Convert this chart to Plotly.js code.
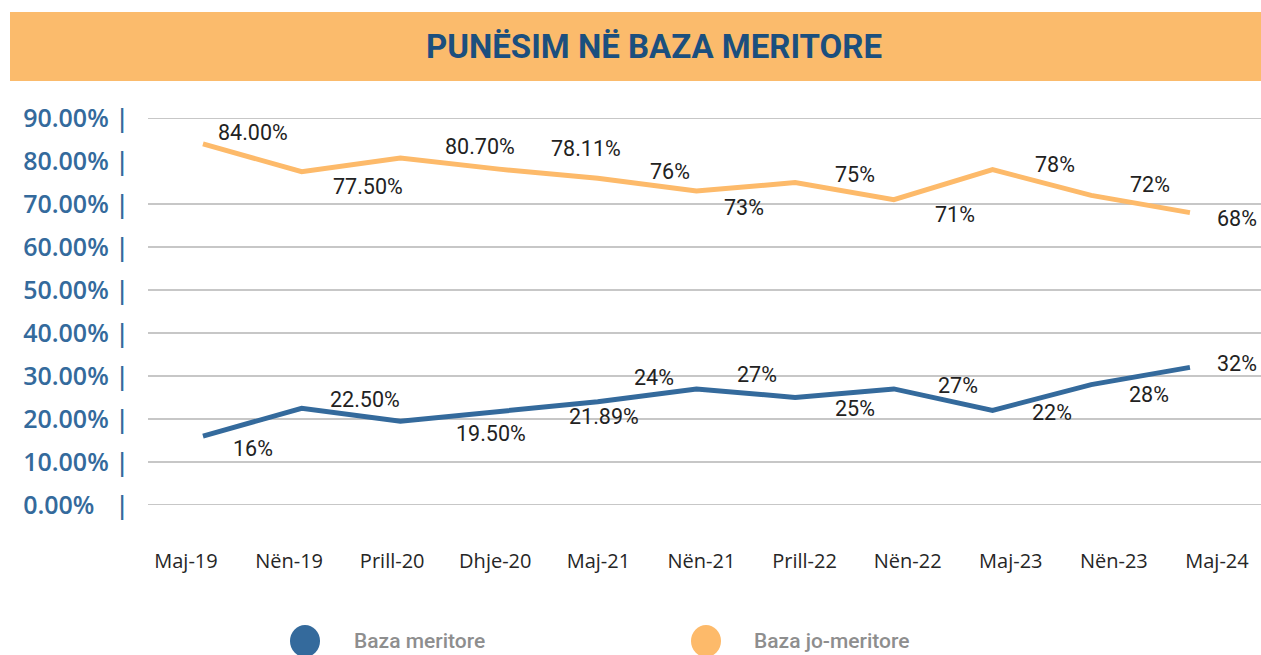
<!DOCTYPE html>
<html>
<head>
<meta charset="utf-8">
<script src="https://cdn.plot.ly/plotly-3.0.1.min.js"></script>
<style>
html,body{margin:0;padding:0;background:#fff;}
#chart{width:1261px;height:655px;}
</style>
</head>
<body>
<div id="chart"></div>
<script>
// ---- data ----
const chartTitle = 'PUNËSIM NË BAZA MERITORE';
const categories = ['Maj-19','Nën-19','Prill-20','Dhje-20','Maj-21','Nën-21','Prill-22','Nën-22','Maj-23','Nën-23','Maj-24'];
const meritore = [16, 22.5, 19.5, 21.89, 24, 27, 25, 27, 22, 28, 32];
const joMeritore = [84, 77.5, 80.7, 78.11, 76, 73, 75, 71, 78, 72, 68];
const meritoreLabels = ['16%','22.50%','19.50%','21.89%','24%','27%','25%','27%','22%','28%','32%'];
const joMeritoreLabels = ['84.00%','77.50%','80.70%','78.11%','76%','73%','75%','71%','78%','72%','68%'];
const seriesNames = ['Baza meritore','Baza jo-meritore'];
const yTickValues = [0,10,20,30,40,50,60,70,80,90];
const yGridValues = [0,10,20,30,40,50,60,70,90];

// ---- style / layout constants ----
const W = 1261, H = 655;
const ML = 148, MR = 0, MT = 118, MB = 150;
const PW = W - ML - MR, PH = H - MT - MB;
const BLUE = '#346A9C', ORANGE = '#FDBA6A', TITLE_BLUE = '#1B4F7E';
const px2x = p => (p - ML) / PW;
const py2y = p => (H - MB - p) / PH;

// label offsets in px [dx, dy(down)]
const joOffsets = [[50,-11],[66,15],[80,-11],[87,-21],[72,-7],[48,16],[60,-8],[61,15],[62,-5],[59,-11],[47,6]];
const merOffsets = [[50,12],[63,-9],[91,12],[105,6],[56,-24],[61,-14],[60,11],[64,-3],[59,2],[58,10],[47,-4]];

const traces = [
  {x: categories, y: meritore, name: seriesNames[0], type:'scatter', mode:'lines',
   line:{color:BLUE, width:5}, hoverinfo:'skip'},
  {x: categories, y: joMeritore, name: seriesNames[1], type:'scatter', mode:'lines',
   line:{color:ORANGE, width:5}, hoverinfo:'skip'},
  // carrier trace for the category tick-label axis (draws nothing)
  {x: categories.map((c,i)=>i), y: categories.map(()=>null), xaxis:'x2', yaxis:'y', type:'scatter',
   mode:'markers', marker:{opacity:0}, hoverinfo:'skip', showlegend:false}
];

const annotations = [];
const labFont = {family:'Roboto, sans-serif', size:21.5, color:'#222222'};
categories.forEach((c,i)=>{
  annotations.push({x:c, y:joMeritore[i], xref:'x', yref:'y', text:joMeritoreLabels[i], showarrow:false,
    xanchor:'center', yanchor:'middle', xshift:joOffsets[i][0], yshift:-joOffsets[i][1], font:labFont});
  annotations.push({x:c, y:meritore[i], xref:'x', yref:'y', text:meritoreLabels[i], showarrow:false,
    xanchor:'center', yanchor:'middle', xshift:merOffsets[i][0], yshift:-merOffsets[i][1], font:labFont});
});

// legend (manual)
const legendItems = [
  {cx:305, tx:352, color:BLUE, name:seriesNames[0]},
  {cx:706, tx:752, color:ORANGE, name:seriesNames[1]}
];
const legendY = 641;
const shapes = [];
// title band
shapes.push({type:'rect', xref:'paper', yref:'paper', x0:px2x(10), x1:px2x(1261), y0:py2y(81), y1:py2y(12),
  fillcolor:'#FBBB6C', line:{width:0}, layer:'below'});
// gridlines
yGridValues.forEach(v=>{
  shapes.push({type:'line', xref:'paper', yref:'y', x0:0, x1:1, y0:v, y1:v,
    line:{color:'#B4B4B4', width:1.3}, layer:'below'});
});
legendItems.forEach(it=>{
  shapes.push({type:'circle', xref:'paper', yref:'paper', x0:px2x(it.cx-15), x1:px2x(it.cx+15),
    y0:py2y(legendY+16), y1:py2y(legendY-16), fillcolor:it.color, line:{width:0}});
  annotations.push({xref:'paper', yref:'paper', x:px2x(it.tx), y:py2y(legendY), xanchor:'left', yanchor:'middle',
    text:it.name, showarrow:false, font:{family:'Roboto, sans-serif', size:21, weight:500, color:'#8E8E8E'}});
});

const yTickText = yTickValues.map(v => v.toFixed(2) + '%' + (v < 10 ? '\u2007' : '') + '\u00A0|');

const layout = {
  width:W, height:H,
  margin:{l:ML, r:MR, t:MT, b:MB},
  paper_bgcolor:'#ffffff', plot_bgcolor:'rgba(0,0,0,0)',
  showlegend:false,
  title:{text:chartTitle, x:654/W, xanchor:'center', y:1-46/H, yanchor:'middle', yref:'container', xref:'container',
    font:{family:'Roboto, sans-serif', size:33, weight:700, color:TITLE_BLUE}},
  xaxis:{type:'category', range:[-0.557, 10.72], showticklabels:false, showgrid:false, zeroline:false,
    showline:false, ticks:'', fixedrange:true},
  xaxis2:{type:'linear', overlaying:'x', anchor:'y', side:'bottom', range:[-0.3686, 10.427],
    tickmode:'array', tickvals:categories.map((c,i)=>i), ticktext:categories,
    showgrid:false, zeroline:false, showline:false, ticks:'', ticklabelstandoff:42,
    tickfont:{family:'"Open Sans", sans-serif', size:20, color:'#262626'}},
  yaxis:{range:[0,90], tickmode:'array', tickvals:yTickValues, ticktext:yTickText,
    showgrid:false, zeroline:false, showline:false, ticks:'', ticklabelstandoff:18,
    tickfont:{family:'"Open Sans", sans-serif', size:25, weight:600, color:BLUE}},
  shapes:shapes,
  annotations:annotations
};

Plotly.newPlot('chart', traces, layout, {staticPlot:true, displayModeBar:false});
</script>
</body>
</html>
